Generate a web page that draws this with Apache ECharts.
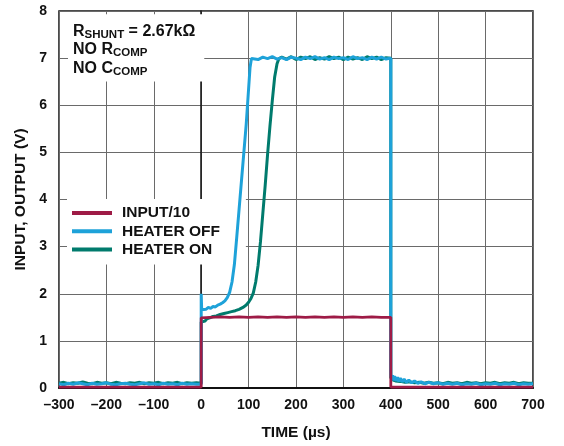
<!DOCTYPE html>
<html>
<head>
<meta charset="utf-8">
<script src="https://cdn.jsdelivr.net/npm/echarts@6/dist/echarts.min.js"></script>
<style>
html,body{margin:0;padding:0;background:#fff;}
#c{width:564px;height:446px;}
</style>
</head>
<body>
<div id="c"></div>
<script>
// ---- data (time in µs, value in V) ----
const xTickLabels = [-300,-200,-100,0,100,200,300,400,500,600,700];
const yTickLabels = [0,1,2,3,4,5,6,7,8];
const seriesNames = ['INPUT/10','HEATER OFF','HEATER ON'];

const inputData = [
  [-300,0.02],[-150,0.02],[0,0.02],[0,1.49],[20,1.50],[40,1.51],[60,1.50],[80,1.51],[100,1.50],
  [120,1.51],[140,1.50],[160,1.51],[180,1.50],[200,1.51],[220,1.50],[240,1.51],[260,1.50],
  [280,1.51],[300,1.50],[320,1.51],[340,1.50],[360,1.51],[380,1.50],[400,1.50],[400,0.02],
  [550,0.02],[700,0.02]
];

const heaterOffData = [
  [-300,0.09],[-290,0.07],[-280,0.10],[-270,0.08],[-260,0.11],[-250,0.09],[-240,0.07],[-230,0.10],
  [-220,0.08],[-210,0.09],[-200,0.11],[-190,0.08],[-180,0.07],[-170,0.09],[-160,0.10],[-150,0.08],
  [-140,0.07],[-130,0.09],[-120,0.11],[-110,0.08],[-100,0.09],[-90,0.07],[-80,0.10],[-70,0.08],
  [-60,0.09],[-50,0.07],[-40,0.10],[-30,0.08],[-20,0.09],[-10,0.08],[0,0.08],
  [0,2.00],[1,1.66],[5,1.70],[10,1.67],[15,1.71],[20,1.69],[25,1.73],[30,1.72],[35,1.76],[40,1.78],
  [45,1.81],[50,1.85],[55,1.92],[60,2.03],[65,2.25],[70,2.62],[75,3.20],[80,3.80],[85,4.40],
  [90,5.00],[95,5.60],[100,6.35],[103,6.80],[106,6.99],
  [110,7.01],[120,6.97],[130,7.02],[140,6.99],[150,7.03],[160,6.98],[170,7.01],[180,6.97],
  [190,7.02],[200,7.00],[210,6.97],[220,7.02],[230,6.99],[240,7.03],[250,6.98],[260,7.01],
  [270,6.97],[280,7.02],[290,6.99],[300,7.01],[310,6.97],[320,7.03],[330,6.99],[340,7.01],
  [350,6.97],[360,7.02],[370,6.98],[380,7.02],[390,6.98],[400,7.00],
  [400,0.30],[402,0.18],[404,0.27],[406,0.16],[408,0.25],[411,0.15],[414,0.23],[417,0.14],
  [420,0.21],[424,0.13],[428,0.19],[433,0.12],[438,0.17],[444,0.11],[450,0.15],[457,0.10],
  [464,0.13],[472,0.09],[480,0.12],[490,0.09],[500,0.11],[510,0.08],[520,0.10],[530,0.08],
  [540,0.10],[550,0.07],[560,0.09],[570,0.08],[580,0.10],[590,0.07],[600,0.09],[610,0.08],
  [620,0.10],[630,0.07],[640,0.09],[650,0.08],[660,0.10],[670,0.07],[680,0.09],[690,0.08],[700,0.09]
];

const heaterOnData = [
  [-300,0.10],[-290,0.12],[-280,0.09],[-270,0.11],[-260,0.10],[-250,0.13],[-240,0.10],[-230,0.09],
  [-220,0.12],[-210,0.10],[-200,0.11],[-190,0.09],[-180,0.12],[-170,0.10],[-160,0.09],[-150,0.11],
  [-140,0.10],[-130,0.12],[-120,0.09],[-110,0.11],[-100,0.10],[-90,0.12],[-80,0.09],[-70,0.11],
  [-60,0.10],[-50,0.12],[-40,0.09],[-30,0.11],[-20,0.10],[-10,0.11],[0,0.10],
  [0,1.40],[3,1.44],[8,1.42],[12,1.47],[18,1.49],[25,1.52],[32,1.53],[40,1.56],[48,1.58],
  [56,1.60],[64,1.62],[72,1.64],[80,1.67],[88,1.71],[95,1.76],[100,1.82],[105,1.90],[110,2.02],
  [115,2.25],[120,2.60],[125,3.10],[130,3.70],[135,4.30],[140,4.95],[145,5.55],[150,6.10],
  [155,6.60],[160,6.88],[164,6.99],
  [170,7.02],[180,6.98],[190,7.03],[200,6.97],[210,7.02],[220,6.99],[230,7.03],[240,6.97],
  [250,7.01],[260,6.98],[270,7.03],[280,6.99],[290,7.02],[300,6.97],[310,7.02],[320,6.98],
  [330,7.01],[340,6.97],[350,7.03],[360,6.99],[370,7.02],[380,6.97],[390,7.01],[400,7.00],
  [400,0.22],[405,0.17],[410,0.15],[420,0.14],[430,0.12],[440,0.13],[450,0.11],[460,0.12],
  [470,0.10],[480,0.12],[490,0.10],[500,0.11],[510,0.09],[520,0.12],[530,0.10],[540,0.11],
  [550,0.09],[560,0.12],[570,0.10],[580,0.11],[590,0.09],[600,0.11],[610,0.10],[620,0.12],
  [630,0.09],[640,0.11],[650,0.10],[660,0.12],[670,0.09],[680,0.11],[690,0.10],[700,0.10]
];

const colors = { input:'#9e1b46', off:'#1ea2d9', on:'#007b6d' };
const FONT = '"Liberation Sans", Arial, Helvetica, sans-serif';

const chart = echarts.init(document.getElementById('c'), null, {renderer:'canvas'});
chart.setOption({
  animation:false,
  backgroundColor:'#fff',
  textStyle:{fontFamily:FONT},
  title:{
    text:'{b|R}{s|SHUNT}{b| = 2.67kΩ}\n{b|NO R}{s|COMP}\n{b|NO C}{s|COMP}',
    left:68, top:13,
    padding:[9,9,4,5],
    backgroundColor:'#fff',
    textStyle:{
      fontFamily:FONT,
      rich:{
        b:{fontFamily:FONT,fontSize:16,fontWeight:'bold',color:'#111',lineHeight:18.5},
        s:{fontFamily:FONT,fontSize:11.5,fontWeight:'bold',color:'#111',lineHeight:9.5,verticalAlign:'bottom'}
      }
    },
    z:1
  },
  legend:{
    data:seriesNames,
    orient:'vertical',
    left:67, top:199,
    padding:[6,26,7,5],
    backgroundColor:'#fff',
    itemWidth:40, itemHeight:4,
    itemGap:2.3,
    icon:'rect',
    textStyle:{fontFamily:FONT,fontSize:15.5,fontWeight:'bold',color:'#111',lineHeight:16,padding:[0,0,0,5]},
    z:1
  },
  grid:{left:59, right:31, top:11, bottom:57, show:true, borderColor:'#111', borderWidth:1.5, containLabel:false},
  xAxis:{
    type:'value', min:-300, max:700, interval:100,
    name:'TIME (µs)', nameLocation:'middle', nameGap:37,
    nameTextStyle:{fontFamily:FONT,fontSize:15.5,fontWeight:'bold',color:'#111'},
    axisLine:{show:true,onZero:false,lineStyle:{color:'#111',width:2}},
    axisTick:{show:false},
    axisLabel:{margin:10,fontFamily:FONT,fontSize:14,fontWeight:'bold',color:'#111',
      formatter:function(v){return v<0?('\u2013'+Math.abs(v)):String(v);}},
    splitLine:{show:true,lineStyle:{color:'#6a6a6a',width:1}}
  },
  yAxis:{
    type:'value', min:0, max:8, interval:1,
    name:'INPUT, OUTPUT (V)', nameLocation:'middle', nameGap:30,
    nameTextStyle:{fontFamily:FONT,fontSize:15.5,fontWeight:'bold',color:'#111'},
    axisLine:{show:true,lineStyle:{color:'#111',width:1.5}},
    axisTick:{show:false},
    axisLabel:{margin:12,fontFamily:FONT,fontSize:14,fontWeight:'bold',color:'#111'},
    splitLine:{show:true,lineStyle:{color:'#6a6a6a',width:1}}
  },
  series:[
    {name:'HEATER ON',type:'line',data:heaterOnData,showSymbol:false,symbol:'none',
      lineStyle:{color:colors.on,width:3},itemStyle:{color:colors.on},z:3},
    {name:'HEATER OFF',type:'line',data:heaterOffData,showSymbol:false,symbol:'none',
      lineStyle:{color:colors.off,width:3},itemStyle:{color:colors.off},z:4},
    {name:'INPUT/10',type:'line',data:inputData,showSymbol:false,symbol:'none',
      lineStyle:{color:colors.input,width:2.8},itemStyle:{color:colors.input},z:5}
  ]
});
</script>
</body>
</html>
